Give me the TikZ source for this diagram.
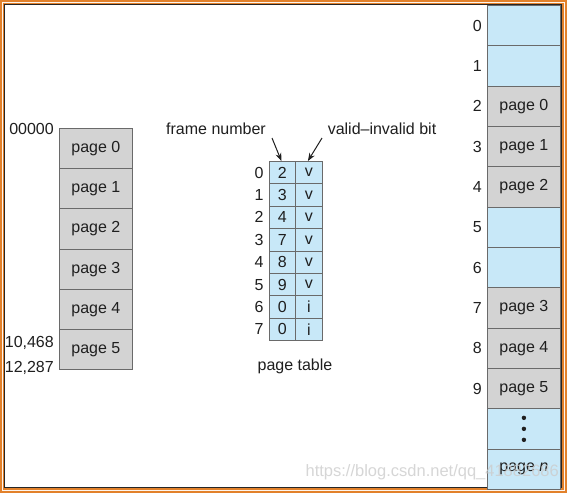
\documentclass[tikz,border=0pt]{standalone}
\usepackage{fontspec}
\setmainfont{Liberation Sans}
\usetikzlibrary{arrows.meta}
\definecolor{memblue}{HTML}{C8E8F8}
\definecolor{memgray}{HTML}{D3D3D3}
\definecolor{edgegray}{HTML}{6A6A6A}
\definecolor{frameorange}{HTML}{E2812B}
\begin{document}
\begin{tikzpicture}[x=1pt,y=-1pt,
  lbl/.style={font=\fontsize{16}{19}\selectfont, text=black!88, inner sep=0pt},
  memcell/.style={draw=edgegray, line width=0.8pt, minimum width=73pt, minimum height=40.3pt,
     inner sep=0pt, anchor=north west, font=\fontsize{16}{19}\selectfont, text=black!88},
  ptcell/.style={draw=edgegray, line width=0.8pt, fill=memblue, minimum height=22.4pt,
     inner sep=0pt, anchor=north west, font=\fontsize{16}{19}\selectfont, text=black!88},
  ptarrow/.style={draw=black!88, line width=1pt, -{Stealth[length=8pt,width=6pt]}}
]
% frame
\useasboundingbox (0,0) rectangle (567,493);
\fill[frameorange] (0,0) rectangle (567,493);
\fill[white!92!frameorange] (2,2) rectangle (565,491);
\fill[frameorange] (2.8,2.8) rectangle (564.2,490.2);
\filldraw[fill=white, draw=black!85, line width=1.2pt] (4.5,4.5) rectangle (561.5,487.5);

% physical memory
\foreach \i/\c/\t in {0/memblue/{},1/memblue/{},2/memgray/page 0,3/memgray/page 1,4/memgray/page 2,
   5/memblue/{},6/memblue/{},7/memgray/page 3,8/memgray/page 4,9/memgray/page 5,10/memblue/{},11/memblue/{page \textit{n}}}{
  \node[memcell, fill=\c] (phys\i) at (487,{5+40.33*\i}) {\t};
}
\foreach \i in {0,...,9}{
  \node[lbl, anchor=east] (physlbl\i) at ([xshift=-5pt]phys\i.west) {\i};
}
\foreach \d in {-11,0,11}{
  \fill[black!88] ([yshift=\d pt]phys10.center) circle (2.2pt);
}

% logical memory
\foreach \i in {0,...,5}{
  \node[memcell, fill=memgray] (log\i) at (59,{128+40.2*\i}) {page \i};
}
\node[lbl, anchor=east] (addr0) at (54,129) {00000};
\node[lbl, anchor=east] (addr1) at (54,343) {10,468};
\node[lbl, anchor=east] (addr2) at (54,368) {12,287};

% page table
\foreach \i/\f/\v in {0/2/v,1/3/v,2/4/v,3/7/v,4/8/v,5/9/v,6/0/i,7/0/i}{
  \node[ptcell, minimum width=26pt] (ptf\i) at (269,{161+22.4*\i}) {\f};
  \node[ptcell, minimum width=27pt] (ptv\i) at (295,{161+22.4*\i}) {\v};
  \node[lbl] (ptidx\i) at ([xshift=-10pt]ptf\i.west) {\i};
}
\node[lbl] (pttitle) at (295,366) {page table};
\node[lbl] (fnlbl) at (216,129) {frame number};
\node[lbl] (vilbl) at (382,129) {valid–invalid bit};
\coordinate (fnstart) at (272,138);
\coordinate (vistart) at (322,138);
\draw[ptarrow] (fnstart) -- ([xshift=-1pt]ptf0.north);
\draw[ptarrow] (vistart) -- ([xshift=-1pt]ptv0.north);

% watermark
\node[font=\fontsize{16.5}{18}\selectfont, text=gray!40, opacity=0.8, anchor=east, inner sep=0pt] (wm) at (559,472) {https://blog.csdn.net/qq\_41882686};
\end{tikzpicture}
\end{document}
